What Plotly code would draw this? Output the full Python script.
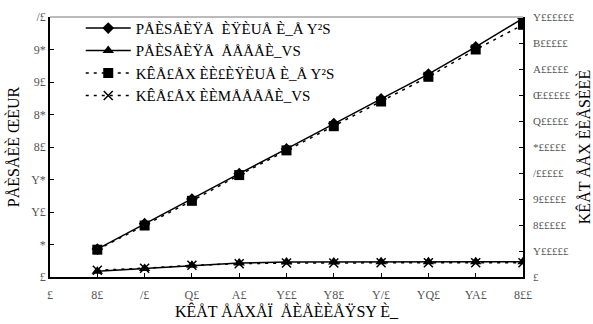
import plotly.graph_objects as go

x_vals = [20, 40, 60, 80, 100, 120, 140, 160, 180, 200]
diamond_vals = [4.3, 8.2, 12.0, 15.9, 19.7, 23.6, 27.4, 31.2, 35.4, 39.8]
triangle_vals = [0.9, 1.3, 1.8, 2.15, 2.3, 2.3, 2.35, 2.35, 2.35, 2.35]
square_vals = [105000, 198000, 293000, 392000, 487000, 580000, 675000, 770000, 875000, 970000]
cross_vals = [26000, 34000, 45000, 51000, 54000, 54000, 55000, 55000, 55000, 55000]

series_names = [
    "PÅÈSÅÈŸÅ  ÈŸÈUÅ È_Å Y²S",
    "PÅÈSÅÈŸÅ  ÅÅÅÅÈ_VS",
    "KÊÅ£ÅX ÈÈ£ÈŸÈUÅ È_Å Y²S",
    "KÊÅ£ÅX ÈÈMÅÅÅÅÈ_VS",
]

x_tickvals = [0, 20, 40, 60, 80, 100, 120, 140, 160, 180, 200]
x_ticktext = ["£", "8£", "/£", "Q£", "A£", "Y££", "Y8£", "Y/£", "YQ£", "YA£", "8££"]
y1_tickvals = [0, 5, 10, 15, 20, 25, 30, 35, 40]
y1_ticktext = ["£", "*", "Y£", "Y*", "8£", "8*", "9£", "9*", "/£"]
y2_tickvals = [0, 100000, 200000, 300000, 400000, 500000, 600000, 700000, 800000, 900000, 1000000]
y2_ticktext = ["£", "Y£££££", "8£££££", "9£££££", "/£££££", "*£££££", "Q£££££",
               "Œ£££££", "A£££££", "B£££££", "Y££££££"]

x_title = "KÊÅT ÅÅXÅÏ  ÅÈÅÈÈÅŸSY È_"
y1_title = "PÅÈSÅÈÈ ŒÈUR"
y2_title = "KÊÅT ÅÅX ÈÈÅSÈÈÈ"

FONT = "Liberation Serif"

fig = go.Figure()
fig.add_trace(go.Scatter(x=x_vals, y=diamond_vals, name=series_names[0], mode="lines+markers",
                         line=dict(color="black", width=1.5),
                         marker=dict(symbol="diamond", size=9, color="black")))
fig.add_trace(go.Scatter(x=x_vals, y=triangle_vals, name=series_names[1], mode="lines+markers",
                         line=dict(color="black", width=1.5),
                         marker=dict(symbol="triangle-up", size=10, color="black")))
fig.add_trace(go.Scatter(x=x_vals, y=square_vals, name=series_names[2], mode="lines+markers",
                         yaxis="y2",
                         line=dict(color="black", width=1.5, dash="3px,5px"),
                         marker=dict(symbol="square", size=10, color="black")))
fig.add_trace(go.Scatter(x=x_vals, y=cross_vals, name=series_names[3], mode="lines+markers",
                         yaxis="y2",
                         line=dict(color="black", width=1.5, dash="3px,5px"),
                         marker=dict(symbol="x-thin", size=9, color="black",
                                     line=dict(color="black", width=1.5))))

fig.update_layout(
    width=593, height=324,
    margin=dict(l=50, r=70, t=13, b=47),
    paper_bgcolor="white", plot_bgcolor="white",
    font=dict(family=FONT, color="black", size=12),
    showlegend=True,
    legend=dict(x=0.065, y=1.02, xanchor="left", yanchor="top",
                bgcolor="rgba(0,0,0,0)", font=dict(size=15, family=FONT),
                tracegroupgap=0, itemwidth=45),
    xaxis=dict(range=[0, 200], tickvals=x_tickvals, ticktext=x_ticktext,
               showline=True, linecolor="black", linewidth=1.5,
               ticks="inside", ticklen=4, tickcolor="black", showgrid=False, zeroline=False,
               ticklabelstandoff=6, automargin=False,
               title=dict(text=x_title, font=dict(size=16), standoff=2),
               tickfont=dict(size=12, color="#555")),
    yaxis=dict(range=[0, 40], tickvals=y1_tickvals, ticktext=y1_ticktext,
               showline=True, linecolor="black", linewidth=1.5,
               ticks="inside", ticklen=4, tickcolor="black", showgrid=False, zeroline=False,
               automargin=False,
               title=dict(text=y1_title, font=dict(size=16), standoff=8),
               tickfont=dict(size=12, color="#555")),
    yaxis2=dict(range=[0, 1000000], tickvals=y2_tickvals, ticktext=y2_ticktext,
                overlaying="y", side="right",
                showline=True, linecolor="black", linewidth=1.5,
                ticks="inside", ticklen=4, tickcolor="black", showgrid=False, zeroline=False,
                ticklabelstandoff=6, automargin=False,
                title=dict(text=y2_title, font=dict(size=16), standoff=6),
                tickfont=dict(size=11, color="#555")),
    shapes=[dict(type="line", xref="paper", yref="paper", x0=0, x1=1, y0=1, y1=1,
                 line=dict(color="#bbbbbb", width=2))],
)

fig.write_html("out.html")
